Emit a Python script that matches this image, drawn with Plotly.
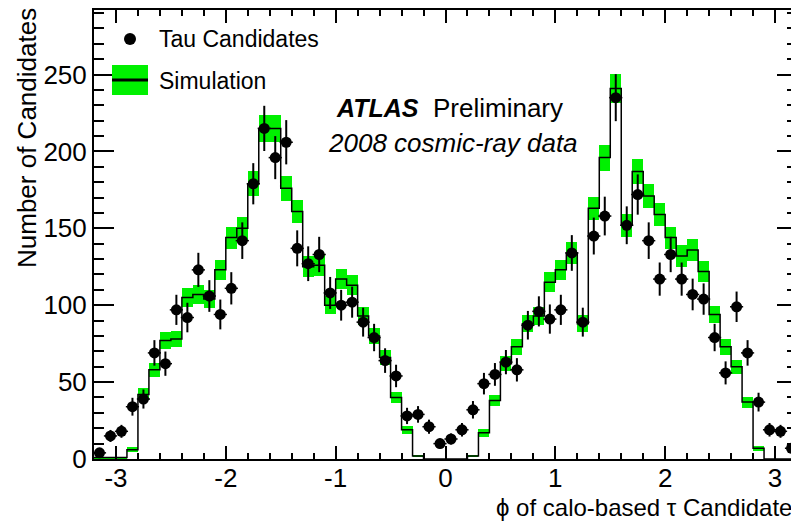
import numpy as np
import plotly.graph_objects as go

# 64 bins of width 0.1 in phi, from -3.2 to 3.2
phi_edges = np.round(np.linspace(-3.2, 3.2, 65), 3)
phi_centers = np.round((phi_edges[:-1] + phi_edges[1:]) / 2, 3)

tau_candidates = [4, 15, 18, 34, 39, 69, 62, 97, 92, 123,
                  106, 94, 111, 142, 179, 215, 196, 206, 137, 127,
                  133, 108, 100, 102, 89, 79, 64, 54, 28, 29,
                  21, 10, 13, 19, 32, 49, 55, 63, 58, 87,
                  96, 91, 97, 134, 89, 145, 158, 235, 152, 172,
                  142, 117, 133, 117, 107, 104, 79, 56, 99, 69,
                  37, 19, 18, 7]
tau_err = [2.0, 3.9, 4.2, 5.8, 6.2, 8.3, 7.9, 9.8, 9.6, 11.1,
           10.3, 9.7, 10.5, 11.9, 13.4, 14.7, 14.0, 14.4, 11.7, 11.3,
           11.5, 10.4, 10.0, 10.1, 9.4, 8.9, 8.0, 7.3, 5.3, 5.4,
           4.6, 3.2, 3.6, 4.4, 5.7, 7.0, 7.4, 7.9, 7.6, 9.3,
           9.8, 9.5, 9.8, 11.6, 9.4, 12.0, 12.6, 15.3, 12.3, 13.1,
           11.9, 10.8, 11.5, 10.8, 10.3, 10.2, 8.9, 7.5, 9.9, 8.3,
           6.1, 4.4, 4.2, 2.6]

simulation = [1, 1, 1, 6, 42, 58, 77, 78, 105, 107,
              104, 123, 144, 150, 179, 215, 215, 176, 161, 125,
              126, 100, 117, 113, 93, 80, 66, 40, 19, 2,
              0, 0, 0, 0, 2, 17, 38, 62, 73, 88,
              93, 115, 123, 134, 88, 163, 196, 241, 152, 187,
              171, 159, 144, 132, 136, 122, 94, 73, 60, 37,
              7, 0, 0, 0]
sim_err = [0.6, 0.6, 0.6, 1.5, 3.9, 4.6, 5.3, 5.3, 6.1, 6.2,
           6.1, 6.7, 7.2, 7.3, 8.0, 8.8, 8.8, 8.0, 7.6, 6.7,
           6.7, 6.0, 6.5, 6.4, 5.8, 5.4, 4.9, 3.8, 2.6, 0.8,
           0.0, 0.0, 0.0, 0.0, 0.8, 2.5, 3.7, 4.7, 5.1, 5.6,
           5.8, 6.4, 6.7, 6.9, 5.6, 7.7, 8.4, 9.3, 7.4, 8.2,
           7.8, 7.6, 7.2, 6.9, 7.0, 6.6, 5.8, 5.1, 4.6, 3.6,
           1.6, 0.0, 0.0, 0.0]

x_tick_vals = [-3, -2, -1, 0, 1, 2, 3]
x_tick_text = ["-3", "-2", "-1", "0", "1", "2", "3"]

GREEN = "#00f000"
FONT = "Liberation Sans, Arial, sans-serif"

sim = np.array(simulation, dtype=float)
serr = np.array(sim_err, dtype=float)

fig = go.Figure()

# simulation uncertainty band
fig.add_trace(go.Bar(
    x=phi_centers, y=2 * serr, base=sim - serr, width=0.1,
    marker=dict(color=GREEN, line=dict(width=0)),
    showlegend=False, hoverinfo="skip"))

# simulation histogram (step line)
fig.add_trace(go.Scatter(
    x=list(phi_edges), y=list(sim) + [sim[-1]],
    mode="lines", line=dict(color="black", width=1.5, shape="hv"),
    showlegend=False, hoverinfo="skip"))

# data points
fig.add_trace(go.Scatter(
    x=phi_centers, y=tau_candidates, mode="markers",
    marker=dict(color="black", size=11, symbol="circle"),
    error_y=dict(type="data", array=tau_err, color="black", thickness=2, width=0),
    error_x=dict(type="constant", value=0.06, color="black", thickness=1.5, width=0),
    showlegend=False))

# ---- page body has an 8px margin; work in reference-window pixels
OFF = 8
FIG_W, FIG_H = 799 - OFF, 521 - OFF
L, R, T, B = 94 - OFF, 797 - OFF, 10 - OFF, 459 - OFF


def px(x):
    return (x - OFF - L) / (R - L)


def py(y):
    return (B - (y - OFF)) / (B - T)


shapes = [
    # legend: green box with black line
    dict(type="rect", xref="paper", yref="paper", x0=px(112), x1=px(148),
         y0=py(95), y1=py(65), fillcolor=GREEN, line=dict(width=0)),
    dict(type="line", xref="paper", yref="paper", x0=px(112), x1=px(148),
         y0=py(80), y1=py(80), line=dict(color="black", width=3)),
    # legend: marker
    dict(type="circle", xref="paper", yref="paper", xsizemode="pixel", ysizemode="pixel",
         xanchor=px(130), yanchor=py(39), x0=-6, x1=6, y0=-6, y1=6,
         fillcolor="black", line=dict(width=0)),
]

annotations = [
    dict(text="Tau Candidates", x=px(157), y=py(39), xref="paper", yref="paper",
         xanchor="left", yanchor="middle", showarrow=False,
         font=dict(family=FONT, size=23, color="black")),
    dict(text="Simulation", x=px(157), y=py(81), xref="paper", yref="paper",
         xanchor="left", yanchor="middle", showarrow=False,
         font=dict(family=FONT, size=23, color="black")),
    dict(text="<b><i>ATLAS</i></b>", x=px(334), y=py(108), xref="paper", yref="paper",
         xanchor="left", yanchor="middle", showarrow=False,
         font=dict(family=FONT, size=25, color="black")),
    dict(text="Preliminary", x=px(431), y=py(108), xref="paper", yref="paper",
         xanchor="left", yanchor="middle", showarrow=False,
         font=dict(family=FONT, size=26, color="black")),
    dict(text="<i>2008 cosmic-ray data</i>", x=px(326), y=py(143), xref="paper", yref="paper",
         xanchor="left", yanchor="middle", showarrow=False,
         font=dict(family=FONT, size=26, color="black")),
    dict(text="\u03d5 of calo-based \u03c4 Candidate", x=px(794), y=py(507), xref="paper", yref="paper",
         xanchor="right", yanchor="middle", showarrow=False,
         font=dict(family=FONT, size=24, color="black")),
    dict(text="Number of Candidates", x=px(27), y=py(6), xref="paper", yref="paper",
         xanchor="center", yanchor="top", textangle=-90, showarrow=False,
         font=dict(family=FONT, size=26, color="black")),
]

fig.update_layout(
    width=FIG_W, height=FIG_H,
    margin=dict(l=L, r=FIG_W - R, t=T, b=FIG_H - B, autoexpand=False),
    paper_bgcolor="white", plot_bgcolor="white",
    shapes=shapes, annotations=annotations,
    bargap=0, showlegend=False,
    font=dict(family=FONT, size=26, color="black"),
)

fig.update_xaxes(
    range=[-3.2, 3.2], showgrid=False, zeroline=False, automargin=False,
    tickmode="array", tickvals=x_tick_vals, ticktext=x_tick_text,
    ticks="inside", ticklen=13, tickwidth=2, tickcolor="black",
    minor=dict(ticks="inside", tickmode="linear", tick0=0, dtick=0.2,
               ticklen=6, tickwidth=2, tickcolor="black", showgrid=False),
    showline=True, linewidth=2, linecolor="black", mirror="ticks",
    ticklabelstandoff=-5,
    tickfont=dict(family=FONT, size=26, color="black"),
)
fig.update_yaxes(
    range=[0, 292], showgrid=False, zeroline=False, automargin=False,
    tickmode="linear", tick0=0, dtick=50,
    ticks="inside", ticklen=20, tickwidth=2, tickcolor="black",
    minor=dict(ticks="inside", tickmode="linear", tick0=0, dtick=10,
               ticklen=10, tickwidth=2, tickcolor="black", showgrid=False),
    showline=True, linewidth=2, linecolor="black", mirror="ticks",
    tickfont=dict(family=FONT, size=26, color="black"),
)

fig.write_html("out.html")
